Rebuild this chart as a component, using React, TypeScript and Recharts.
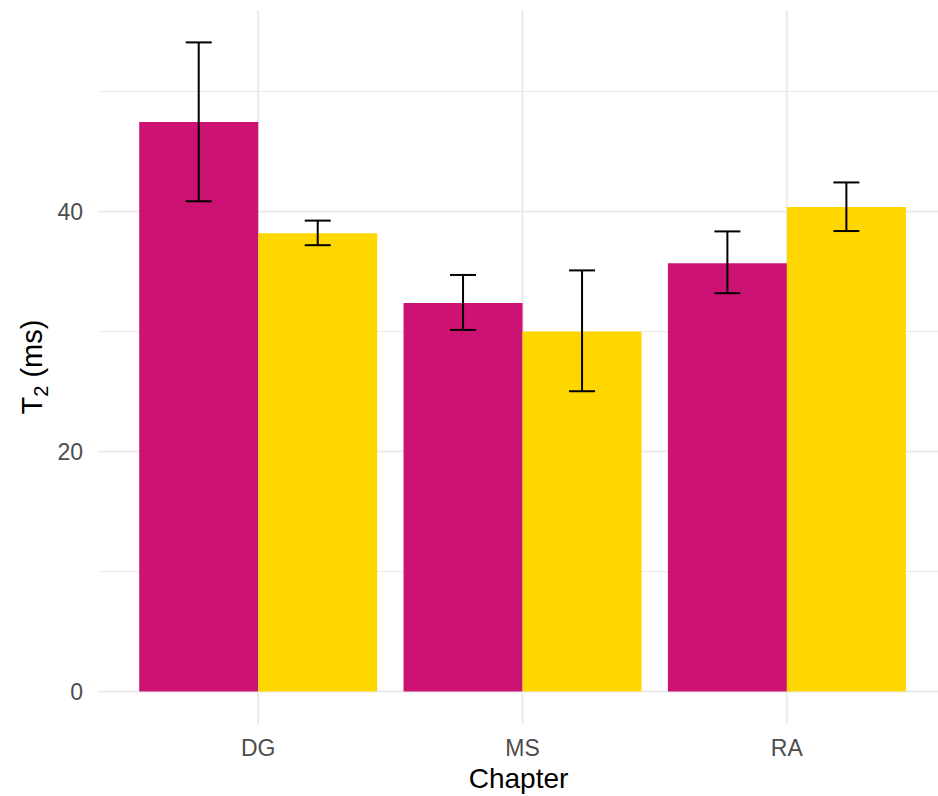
import { Bar, BarChart, CartesianGrid, ErrorBar, XAxis, YAxis } from 'recharts';

const chapters = ['DG', 'MS', 'RA'];
const magentaMean = [47.47, 32.39, 35.69];
const magentaLow = [40.86, 30.14, 33.2];
const magentaHigh = [54.1, 34.72, 38.35];
const goldMean = [38.2, 30.0, 40.39];
const goldLow = [37.2, 25.03, 38.38];
const goldHigh = [39.25, 35.1, 42.43];
const majorTicks = [0, 20, 40];
const minorTicks = [10, 30, 50];

const data = chapters.map((chapter, i) => ({
  chapter,
  a: magentaMean[i],
  aErr: [magentaMean[i] - magentaLow[i], magentaHigh[i] - magentaMean[i]],
  b: goldMean[i],
  bErr: [goldMean[i] - goldLow[i], goldHigh[i] - goldMean[i]],
}));

const FONT = 'Liberation Sans, Arial, sans-serif';

function YLabel({ viewBox }: any) {
  const x = 42;
  const y = viewBox.y + viewBox.height / 2;
  return (
    <text x={x} y={y} transform={`rotate(-90, ${x}, ${y})`} textAnchor="middle" fontFamily={FONT} fontSize={29} fill="#000">
      T<tspan fontSize={20} dy={6}>2</tspan>
      <tspan dy={-6}> (ms)</tspan>
    </text>
  );
}

function XLabel({ viewBox }: any) {
  return (
    <text x={viewBox.x + viewBox.width / 2} y={788} textAnchor="middle" fontFamily={FONT} fontSize={28} fill="#000">
      Chapter
    </text>
  );
}

export default function App() {
  return (
    <div style={{ position: 'absolute', left: 0, top: 0, background: '#fff' }}>
      <BarChart
        width={938}
        height={796}
        data={data}
        margin={{ top: 10, right: 0, bottom: 0, left: 0 }}
        barCategoryGap="5%"
        barGap={0}
      >
        <CartesianGrid horizontalValues={minorTicks} vertical={false} stroke="#ebebeb" strokeWidth={1} />
        <CartesianGrid horizontalValues={majorTicks} verticalValues={chapters} stroke="#ebebeb" strokeWidth={2} />
        <XAxis
          dataKey="chapter"
          height={72}
          padding={{ left: 27, right: 19 }}
          axisLine={false}
          tickLine={false}
          tickSize={0}
          tickMargin={16}
          tick={{ fontSize: 23, fill: '#4d4d4d', fontFamily: FONT }}
          label={<XLabel />}
        />
        <YAxis
          width={99}
          type="number"
          domain={[-2.7, 56.8]}
          ticks={majorTicks}
          allowDataOverflow
          axisLine={false}
          tickLine={false}
          tickSize={0}
          tickMargin={16}
          tick={{ fontSize: 23, fill: '#4d4d4d', fontFamily: FONT }}
          label={<YLabel />}
        />
        <Bar dataKey="a" fill="#cc1272" isAnimationActive={false}>
          <ErrorBar dataKey="aErr" width={13} strokeWidth={2} stroke="#000" direction="y" />
        </Bar>
        <Bar dataKey="b" fill="#ffd700" isAnimationActive={false}>
          <ErrorBar dataKey="bErr" width={13} strokeWidth={2} stroke="#000" direction="y" />
        </Bar>
      </BarChart>
    </div>
  );
}
